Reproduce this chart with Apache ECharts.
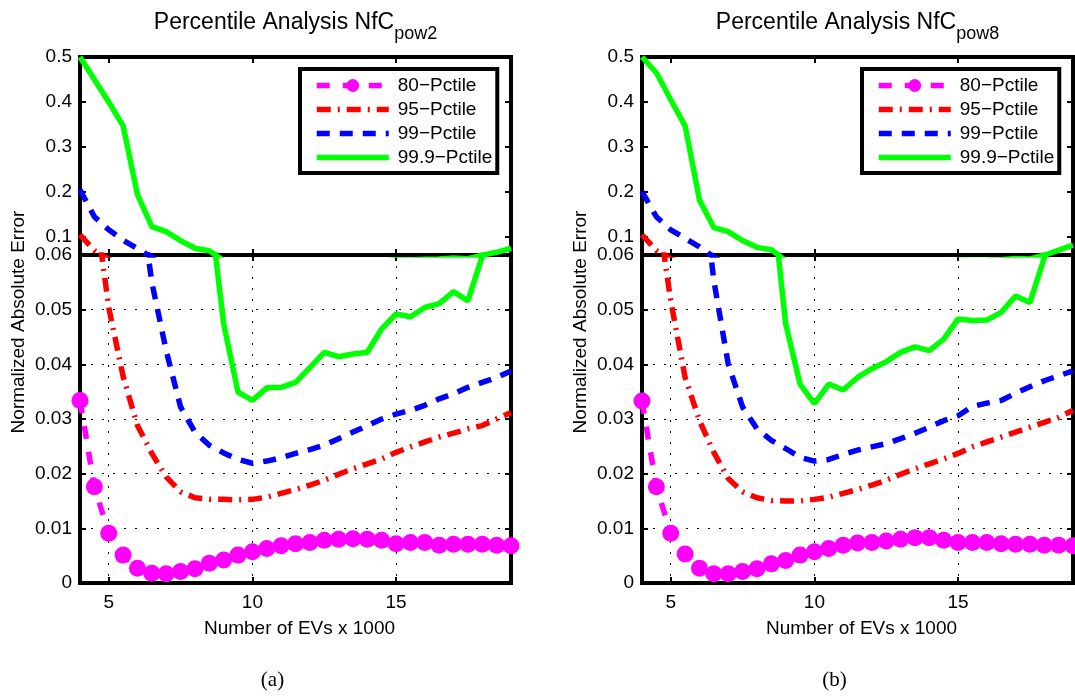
<!DOCTYPE html>
<html>
<head>
<meta charset="utf-8">
<script src="https://cdn.jsdelivr.net/npm/echarts@6/dist/echarts.min.js"></script>
<style>html,body{margin:0;padding:0;background:#fff}#c{width:1075px;height:696px}</style>
</head>
<body>
<div id="c"></div>
<script>
// ---- data ----
const evs = [4,4.5,5,5.5,6,6.5,7,7.5,8,8.5,9,9.5,10,10.5,11,11.5,12,12.5,13,13.5,14,14.5,15,15.5,16,16.5,17,17.5,18,18.5,19];
const seriesNames = ['80\u2212Pctile','95\u2212Pctile','99\u2212Pctile','99.9\u2212Pctile'];
const xTickVals = [5,10,15];
const yTickTop = [0.1,0.2,0.3,0.4,0.5];
const yTickBottom = [0,0.01,0.02,0.03,0.04,0.05,0.06];
const panelTitles = ['pow2','pow8'];
const panelTags = ['(a)','(b)'];

// panel (a) NfC_pow2
const p80a  = [0.0334,0.0176,0.0091,0.0051,0.0027,0.0018,0.0017,0.0021,0.0026,0.0036,0.0042,0.0051,0.0057,0.0063,0.0068,0.0072,0.0074,0.0078,0.0080,0.0081,0.0080,0.0078,0.0072,0.0074,0.0074,0.0069,0.0071,0.0071,0.0071,0.0069,0.0068];
const p95a  = [0.105,0.070,0.0504,0.0378,0.0288,0.0237,0.0194,0.0167,0.0156,0.0153,0.0153,0.0152,0.0153,0.0157,0.0164,0.0171,0.0179,0.0188,0.0199,0.0209,0.0218,0.0227,0.0239,0.0249,0.0258,0.0267,0.0274,0.0282,0.0288,0.0300,0.0312];
const p99a  = [0.205,0.145,0.116,0.093,0.074,0.055,0.0425,0.0322,0.0276,0.0252,0.0238,0.0226,0.0219,0.0223,0.0229,0.0237,0.0244,0.0252,0.0264,0.0276,0.0288,0.0300,0.0309,0.0316,0.0325,0.0337,0.0346,0.0358,0.0367,0.0376,0.0388];
const p999a = [0.5,0.45,0.40,0.347,0.194,0.123,0.112,0.092,0.075,0.0695,0.0474,0.0349,0.0334,0.0357,0.0358,0.0367,0.0394,0.0422,0.0414,0.0419,0.0422,0.0465,0.0492,0.0487,0.0504,0.0511,0.0533,0.0516,0.0598,0.066,0.075];

// panel (b) NfC_pow8
const p80b  = [0.0333,0.0176,0.0091,0.0053,0.0027,0.0017,0.0017,0.0021,0.0026,0.0035,0.0041,0.0051,0.0057,0.0063,0.0069,0.0073,0.0074,0.0077,0.0080,0.0083,0.0083,0.0078,0.0074,0.0074,0.0074,0.0072,0.0071,0.0071,0.0069,0.0069,0.0068];
const p95b  = [0.105,0.070,0.0516,0.0376,0.0297,0.0239,0.0191,0.0167,0.0156,0.0151,0.0150,0.0150,0.0153,0.0157,0.0164,0.0171,0.0179,0.0188,0.0199,0.0209,0.0218,0.0227,0.0237,0.0249,0.0258,0.0267,0.0276,0.0285,0.0294,0.0303,0.0316];
const p99b  = [0.201,0.145,0.116,0.097,0.078,0.0553,0.0401,0.0322,0.0282,0.0261,0.0246,0.0230,0.0223,0.0226,0.0235,0.0243,0.0249,0.0255,0.0264,0.0274,0.0285,0.0297,0.0306,0.0323,0.0329,0.0334,0.0347,0.0359,0.0370,0.0379,0.0388];
const p999b = [0.5,0.465,0.405,0.347,0.182,0.121,0.112,0.092,0.077,0.072,0.0474,0.0364,0.0328,0.0364,0.0353,0.0376,0.0392,0.0405,0.0422,0.0432,0.0425,0.0446,0.0483,0.0480,0.0481,0.0495,0.0525,0.0513,0.0595,0.071,0.082];

// ---- layout / style ----
const FONT = '"Liberation Sans", Arial, Helvetica, sans-serif';
const SERIF = '"Liberation Serif", "DejaVu Serif", serif';
const panels = [
  {left: 80,  values: [p80a, p95a, p99a, p999a]},
  {left: 642, values: [p80b, p95b, p99b, p999b]}
];
const PW = 431, TOP = 57, BRK = 255, BOT = 583;
const looks = [
  {color:'#ff00ff', type:[13,13], symbol:'circle'},
  {color:'#ff0000', type:[14,7,2,7], symbol:'none'},
  {color:'#0000ff', type:[13,10], symbol:'none'},
  {color:'#00ff00', type:'solid', symbol:'none'}
];

const grid = [], xAxis = [], yAxis = [], series = [], legend = [], graphic = [];

panels.forEach((p, pi) => {
  [0,1].forEach(sec => { // 0 = upper (0.06-0.5), 1 = lower (0-0.06)
    const gi = grid.length;
    grid.push({left: p.left, top: sec === 0 ? TOP : BRK, width: PW,
      height: sec === 0 ? BRK - TOP : BOT - BRK,
      show: true, borderColor: '#000', borderWidth: 4, backgroundColor: 'transparent',
      outerBoundsMode: 'none', containLabel: false});
    ['bottom','top'].forEach(pos => {
      const main = pos === 'bottom' && sec === 1;
      xAxis.push({type:'value', gridIndex: gi, position: pos, min: 4, max: 19,
        axisLine:{show:false, onZero:false},
        axisTick:{show:true, inside:true, length:6, customValues: xTickVals, lineStyle:{color:'#000', width:2}},
        axisLabel:{show: main, customValues: xTickVals, color:'#000', fontSize:19, fontFamily:FONT, margin:10},
        splitLine:{show: main, lineStyle:{color:'#000', width:1, type:[2,9]}}});
    });
    ['left','right'].forEach(pos => {
      const ticks = sec === 0 ? yTickTop : yTickBottom;
      yAxis.push({type:'value', gridIndex: gi, position: pos,
        min: sec === 0 ? 0.06 : 0, max: sec === 0 ? 0.5 : 0.06,
        axisLine:{show:false, onZero:false},
        axisTick:{show:true, inside:true, length:6, customValues: ticks, lineStyle:{color:'#000', width:2}},
        axisLabel:{show: pos === 'left', customValues: ticks, color:'#000', fontSize:19, fontFamily:FONT, margin:8},
        splitLine:{show: pos === 'left' && sec === 1, lineStyle:{color:'#000', width:1, type:[2,9]}}});
    });
    p.values.forEach((vals, k) => {
      const lk = looks[k];
      series.push({type:'line', name: seriesNames[k], xAxisIndex: gi*2, yAxisIndex: gi*2,
        data: evs.map((x, i) => [x, vals[i]]), clip: true,
        symbol: lk.symbol, symbolSize: 17, showSymbol: lk.symbol !== 'none',
        itemStyle:{color: lk.color, borderWidth: 0},
        lineStyle:{color: lk.color, width: 5.5, type: lk.type, cap:'butt'},
        emphasis:{disabled:true}, silent:true, animation:false, z: 2 + k});
    });
  });
  legend.push({left: p.left + 220, top: 69, orient:'vertical',
    data: seriesNames.map((n, k) => k === 0 ? {name: n} : {name: n, itemStyle:{opacity: 0}}),
    itemWidth: 72, itemHeight: 16, itemGap: 5, padding:[7,5,6,14],
    lineStyle:{width: 5.5},
    borderColor:'#000', borderWidth:4, backgroundColor:'#fff', selectedMode:false, z: 10,
    textStyle:{fontSize:19, fontFamily:FONT, color:'#000', padding:[0,0,0,4]}});
  const cx = p.left + PW / 2;
  graphic.push({type:'text', x: cx, y: 11, z: 10, style:{
    text: '{m|Percentile Analysis NfC}{s|' + panelTitles[pi] + '}',
    rich: {m:{fontSize:23, fontFamily:FONT, lineHeight:23, verticalAlign:'top', fill:'#000'},
           s:{fontSize:18, fontFamily:FONT, lineHeight:18, padding:[14,0,0,0], verticalAlign:'top', fill:'#000'}},
    align:'center', verticalAlign:'top', fill:'#000'}});
  graphic.push({type:'text', x: p.left - 61, y: 322, rotation: Math.PI/2, z: 10, style:{
    text:'Normalized Absolute Error', fontSize:19, fontFamily:FONT, fill:'#000', align:'center', verticalAlign:'middle'}});
  graphic.push({type:'text', x: cx + 4, y: 629, z: 10, style:{
    text:'Number of EVs x 1000', fontSize:19, fontFamily:FONT, fill:'#000', align:'center', verticalAlign:'middle'}});
  graphic.push({type:'text', x: cx - 23, y: 680, z: 10, style:{
    text: panelTags[pi], fontSize:21, fontFamily:SERIF, fill:'#000', align:'center', verticalAlign:'middle'}});
});

const chart = echarts.init(document.getElementById('c'), null, {renderer:'canvas'});
chart.setOption({animation:false, backgroundColor:'#fff', grid, xAxis, yAxis, series, legend, graphic});
</script>
</body>
</html>
